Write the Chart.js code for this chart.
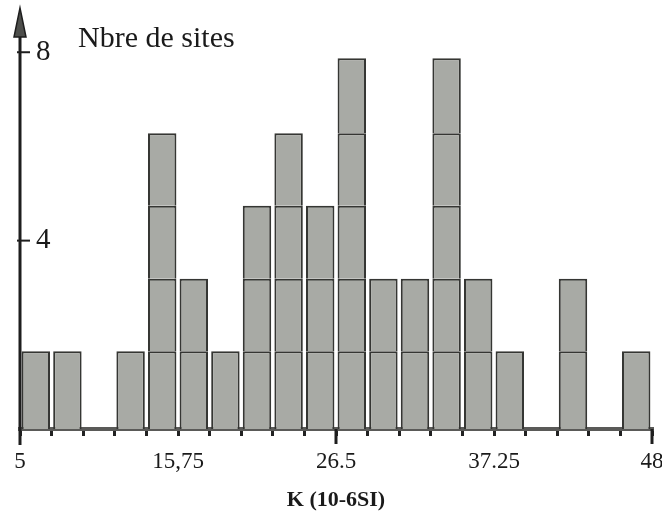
<!DOCTYPE html>
<html lang="fr">
<head>
<meta charset="UTF-8">
<title>Nbre de sites - K (10-6SI)</title>
<script src="https://cdn.jsdelivr.net/npm/chart.js"></script>
<style>
  html, body { margin: 0; padding: 0; background: #fff; }
  #wrap { width: 662px; height: 517px; position: relative; }
</style>
</head>
<body>
<div id="wrap"><canvas id="histo"></canvas></div>
<script>
  // number of sites in each of the 20 classes of K, from 5 to 48
  const siteCounts = [1, 1, 0, 1, 4, 2, 1, 3, 4, 3, 5, 2, 2, 5, 2, 1, 0, 2, 0, 1];
  // height reached on the y axis by a bar of 1, 2, 3, 4, 5 sites (as drawn)
  const stackLevels = [1.65, 3.19, 4.74, 6.28, 7.87];
  const kMin = 5;
  const kMax = 48;
  const xTickLabels = ['5', '15,75', '26.5', '37.25', '48'];
  const xLongTicks = [26.5, 48];
  const yTicks = [4, 8];

  const serif = '"Liberation Serif", "DejaVu Serif", serif';
  const binWidth = (kMax - kMin) / siteCounts.length;
  const xEdges = [];
  for (let i = 0; i <= siteCounts.length; i++) xEdges.push(kMin + i * binWidth);

  // one dataset per stacked cell (one cell = one site)
  const datasets = stackLevels.map((level, k) => ({
    data: siteCounts.map(n => n > k ? level - (k ? stackLevels[k - 1] : 0) : null),
    backgroundColor: '#a8aaa5',
    borderColor: '#353633',
    borderWidth: { top: 2, left: 2, right: 2, bottom: 0 },
    borderSkipped: false,
    barPercentage: 0.9,
    categoryPercentage: 1.0
  }));

  const decor = {
    id: 'decor',
    afterDraw(chart) {
      const { ctx, chartArea, scales: { x2, y } } = chart;
      const x0 = chartArea.left, base = chartArea.bottom;
      ctx.save();
      ctx.strokeStyle = '#1e1e1e';
      ctx.lineWidth = 3;
      // vertical axis with its arrow
      ctx.beginPath();
      ctx.moveTo(x0, base + 16);
      ctx.lineTo(x0, 30);
      ctx.stroke();
      ctx.beginPath();
      ctx.moveTo(x0, 8);
      ctx.lineTo(x0 - 6, 37);
      ctx.lineTo(x0 + 6, 37);
      ctx.closePath();
      ctx.fillStyle = '#4d4e4b';
      ctx.fill();
      ctx.lineWidth = 1.5;
      ctx.stroke();
      // y ticks
      ctx.lineWidth = 2;
      yTicks.forEach(v => {
        const py = y.getPixelForValue(v);
        ctx.beginPath();
        ctx.moveTo(x0 - 3, py);
        ctx.lineTo(x0 + 10, py);
        ctx.stroke();
      });
      // longer x ticks
      ctx.lineWidth = 3;
      xLongTicks.forEach(v => {
        const px = x2.getPixelForValue(v);
        ctx.beginPath();
        ctx.moveTo(px, base);
        ctx.lineTo(px, base + 15);
        ctx.stroke();
      });
      ctx.fillStyle = '#1a1a1a';
      ctx.font = '30px ' + serif;
      ctx.textBaseline = 'alphabetic';
      ctx.fillText('Nbre de sites', 78, 47);
      ctx.restore();
    }
  };

  new Chart(document.getElementById('histo'), {
    type: 'bar',
    data: {
      labels: siteCounts.map((_, i) => (kMin + i * binWidth).toFixed(2)),
      datasets
    },
    plugins: [decor],
    options: {
      responsive: true,
      maintainAspectRatio: false,
      animation: false,
      layout: { padding: { top: 31, left: 20, right: 10, bottom: 1 } },
      plugins: {
        legend: { display: false },
        tooltip: { enabled: false }
      },
      scales: {
        x: { type: 'category', display: false, stacked: true, offset: true },
        x2: {
          type: 'linear',
          position: 'bottom',
          min: kMin,
          max: kMax,
          offset: false,
          z: 1,
          afterBuildTicks: s => { s.ticks = xEdges.map(v => ({ value: v })); },
          afterFit: s => { s.paddingLeft = 0; s.paddingRight = 0; },
          grid: { offset: false, drawOnChartArea: false, tickLength: 7, color: '#222', lineWidth: 3 },
          border: { display: true, color: '#5a5a58', width: 4 },
          ticks: {
            autoSkip: false, maxRotation: 0, minRotation: 0, padding: 12,
            color: '#1a1a1a', font: { family: serif, size: 23 },
            callback: (v, i) => i % 5 === 0 ? xTickLabels[i / 5] : ''
          },
          title: {
            display: true, text: 'K (10-6SI)', color: '#1a1a1a',
            font: { family: serif, size: 22, weight: 'bold' },
            padding: { top: 0, bottom: 2 }
          }
        },
        y: {
          stacked: true,
          min: 0,
          max: 8.4,
          afterBuildTicks: s => { s.ticks = yTicks.map(v => ({ value: v })); },
          afterFit: s => { s.width = 0; },
          grid: { display: false, drawTicks: false },
          border: { display: false },
          ticks: { mirror: true, padding: 16, color: '#1a1a1a', font: { family: serif, size: 29 } }
        }
      }
    }
  });
</script>
</body>
</html>
